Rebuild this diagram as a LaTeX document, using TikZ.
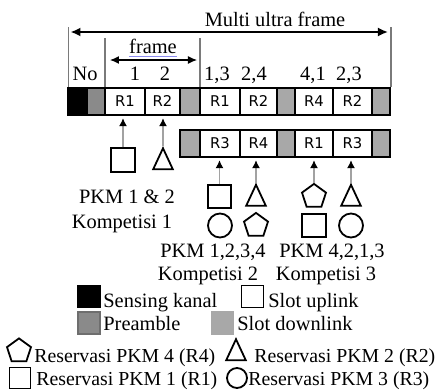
\documentclass[tikz,border=0pt]{standalone}
\usepackage{fontspec}
\setmainfont{Liberation Serif}
\newfontfamily\cellfont{DejaVu Sans}
\usetikzlibrary{shapes.geometric,arrows.meta}
\definecolor{preamble}{HTML}{8A8A8A}
\definecolor{downlink}{HTML}{A8A8A8}
\definecolor{guide}{HTML}{7A7A7A}
\definecolor{uline}{HTML}{8C8CF0}

\tikzset{
  lbl/.style={inner sep=0,font=\fontsize{10.2}{12}\selectfont},
  cell/.style={draw,line width=0.8pt,minimum height=13.5pt,inner sep=0,font=\cellfont\fontsize{7.4}{8}\selectfont},
  sqr/.style={draw,line width=0.9pt,rectangle,minimum size=11.8pt,inner sep=0},
  circ/.style={draw,line width=0.9pt,circle,minimum size=12pt,inner sep=0},
  pent/.style={draw,line width=0.9pt,regular polygon,regular polygon sides=5,minimum size=12.6pt,inner sep=0},
  tri/.style={draw,line width=0.9pt,isosceles triangle,isosceles triangle apex angle=50,shape border rotate=90,minimum height=10.5pt,inner sep=0,yshift=-1.5pt},
  upar/.style={draw=guide!70,line width=0.6pt,shorten >=1.2pt,-{Latex[color=black,length=4pt,width=4pt]}},
  span/.style={line width=0.9pt,{Latex[length=5pt,width=4.5pt]}-{Latex[length=5pt,width=4.5pt]}},
  key/.style={draw,line width=0.7pt,minimum size=11pt,inner sep=0},
}

\begin{document}
\begin{tikzpicture}[x=0.5pt,y=-0.5pt]
\useasboundingbox (0,0) rectangle (441,392);
% frames
\foreach \a/\b/\c/\t/\n in {68/87/black//a0,87/105/preamble//a1,105/145/white/R1/a2,145/180/white/R2/a3,180/200/downlink//a4,200/240/white/R1/a5,240/277/white/R2/a6,277/295/downlink//a7,295/333/white/R4/a8,333/372/white/R2/a9,372/390/downlink//a10}
  \node[cell,fill=\c,minimum width={(\b-\a)*0.5pt}] (\n) at ({(\a+\b)/2},101.5) {\t};
\foreach \a/\b/\c/\t/\n in {180/200/downlink//b1,200/240/white/R3/b2,240/277/white/R4/b3,277/295/downlink//b4,295/333/white/R1/b5,333/372/white/R3/b6,372/390/downlink//b7}
  \node[cell,fill=\c,minimum width={(\b-\a)*0.5pt}] (\n) at ({(\a+\b)/2},143.5) {\t};
% brackets
\coordinate (mL) at (68.5,27); \coordinate (mR) at (391,27);
\coordinate (fL) at (105,38); \coordinate (fR) at (200,38);
\foreach \p in {mL,mR,fL,fR} \draw[guide,line width=0.7pt] (\p) -- (\p |- a0.north);
\draw[span] ([xshift=1pt,yshift=-2.5pt]mL) -- ([xshift=-1.5pt,yshift=-2.5pt]mR);
\draw[line width=0.6pt,{Latex[length=4.5pt,width=4pt]}-{Latex[length=4.5pt,width=4pt]}] ([xshift=2.5pt,yshift=-11pt]fL) -- ([xshift=-1.5pt,yshift=-11pt]fR);
\node[lbl,anchor=base] (mu) at (275,26) {Multi ultra frame};
\node[lbl,anchor=base] (fr) at (153,53) {frame};
\draw[uline,line width=0.5pt] ([yshift=-1.8pt]fr.base west) -- ([yshift=-1.8pt]fr.base east);
\foreach \x/\t/\n in {85/No/n0,135/1/n1,165/2/n2,217/{1,3}/n3,254/{2,4}/n4,313/{4,1}/n5,349/{2,3}/n6}
  \node[lbl,anchor=base] (\n) at (\x,80) {\t};
% kompetisi 1
\node[sqr] (s1) at (123,160) {};
\node[tri] (t1) at (163,160) {};
\draw[upar] (s1.north) -- (s1.north |- a2.south);
\draw[upar] (t1.apex) -- (t1.apex |- a3.south);
\node[lbl,anchor=base] (p1) at (127,203) {PKM 1 \& 2};
\node[lbl,anchor=base] (k1) at (122,228) {Kompetisi 1};
% kompetisi 2 & 3
\node[sqr] (s2) at (219.5,196.5) {};
\node[tri] (t2) at (256,196.5) {};
\node[pent] (q3) at (314,196.5) {};
\node[tri] (t3) at (351,196.5) {};
\node[circ] (c2) at (220,225.5) {};
\node[pent] (q2) at (256,225.5) {};
\node[sqr] (s3) at (314,225.5) {};
\node[circ] (c3) at (351,225.5) {};
\draw[upar] (s2.north) -- (s2.north |- b2.south);
\draw[upar] (t2.apex) -- (t2.apex |- b3.south);
\draw[upar] (q3.corner 1) -- (q3.corner 1 |- b5.south);
\draw[upar] (t3.apex) -- (t3.apex |- b6.south);
\node[lbl,anchor=base] (p2) at (213,257) {PKM 1,2,3,4};
\node[lbl,anchor=base] (p3) at (332,257) {PKM 4,2,1,3};
\node[lbl,anchor=base] (k2) at (208,280) {Kompetisi 2};
\node[lbl,anchor=base] (k3) at (326,280) {Kompetisi 3};
% legend
\node[key,fill=black] (l1) at (89,296.5) {};
\node[lbl,anchor=base west] at (103,307) {Sensing kanal};
\node[key,fill=white] (l2) at (252.5,296.5) {};
\node[lbl,anchor=base west] at (268,307) {Slot uplink};
\node[key,fill=preamble,draw=preamble!80!black] (l3) at (89,323) {};
\node[lbl,anchor=base west] at (103,330) {Preamble};
\node[key,fill=downlink,draw=downlink] (l4) at (222.5,323) {};
\node[lbl,anchor=base west] at (237,330) {Slot downlink};
\node[pent] (l5) at (19,351) {};
\node[lbl,anchor=base west,font=\fontsize{9.9}{12}\selectfont] at (34,362) {Reservasi PKM 4 (R4)};
\node[tri] (l6) at (236,351) {};
\node[lbl,anchor=base west,font=\fontsize{9.9}{12}\selectfont] at (254,362) {Reservasi PKM 2 (R2)};
\node[sqr,minimum size=10.5pt] (l7) at (20,378) {};
\node[lbl,anchor=base west,font=\fontsize{9.9}{12}\selectfont] at (36,385) {Reservasi PKM 1 (R1)};
\node[circ,minimum size=10pt] (l8) at (237,378) {};
\node[lbl,anchor=base west,font=\fontsize{9.9}{12}\selectfont] at (248,385) {Reservasi PKM 3 (R3)};
\end{tikzpicture}
\end{document}
